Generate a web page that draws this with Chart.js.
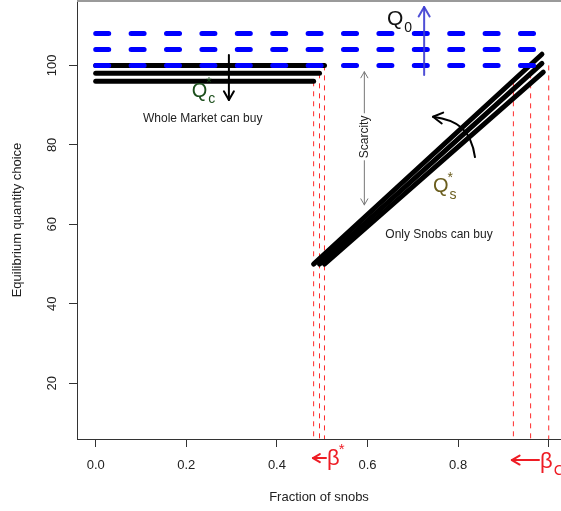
<!DOCTYPE html>
<html><head><meta charset="utf-8">
<script src="https://cdn.jsdelivr.net/npm/chart.js@4/dist/chart.umd.min.js"></script>
<style>html,body{margin:0;padding:0;background:#fff;overflow:hidden}</style>
</head><body>
<canvas id="c" width="561" height="511"></canvas>
<script>
// ---------------- data ----------------
const xTickValues = [0, 0.2, 0.4, 0.6, 0.8, 1.0];
const xTickLabels = ["0.0", "0.2", "0.4", "0.6", "0.8", ""];
const yTickValues = [20, 40, 60, 80, 100];
const yTickLabels = ["20", "40", "60", "80", "100"];
const q0Levels = [100, 104, 108];          // Q0 (blue dashed)
const q0Range = [0, 1.0];
const qcLevels = [100, 98, 96];            // Qc* (black horizontal)
const betaStar = [0.505, 0.494, 0.481];    // where Qc* ends / Qs* starts
const betaC = [1.0, 0.960, 0.922];         // right-hand thresholds
const qsStartY = [50, 50, 50];
const qsEndX = [0.988, 0.985, 0.985];
const qsEndY = [98.3, 100.5, 102.8];
const redBottom = 0;

// ---------------- datasets ----------------
const base = {pointRadius: 0, fill: false, tension: 0, borderCapStyle: 'round'};
const datasets = [];
q0Levels.forEach(L => datasets.push(Object.assign({}, base, {
  data: [{x: q0Range[0], y: L}, {x: q0Range[1], y: L}],
  borderColor: '#0000ff', borderWidth: 5, borderDash: [13, 22.4]
})));
qcLevels.forEach((L, i) => datasets.push(Object.assign({}, base, {
  data: [{x: 0, y: L}, {x: betaStar[i], y: L}],
  borderColor: '#000000', borderWidth: 5
})));
betaStar.forEach((b, i) => datasets.push(Object.assign({}, base, {
  data: [{x: b, y: qsStartY[i]}, {x: qsEndX[i], y: qsEndY[i]}],
  borderColor: '#000000', borderWidth: 5
})));
betaStar.forEach((b, i) => datasets.push(Object.assign({}, base, {
  data: [{x: b, y: qcLevels[i]}, {x: b, y: redBottom}],
  borderColor: 'rgba(255,20,20,0.9)', borderWidth: 1, borderDash: [5, 5], borderCapStyle: 'butt'
})));
betaC.forEach((b, i) => datasets.push(Object.assign({}, base, {
  data: [{x: b, y: qcLevels[i]}, {x: b, y: redBottom}],
  borderColor: 'rgba(255,20,20,0.9)', borderWidth: 1, borderDash: [5, 5], borderCapStyle: 'butt'
})));

// ---------------- annotations ----------------
const FONT = '"Liberation Sans", Arial, Helvetica, sans-serif';
const notes = {
  q0Arrow: {from: [0.725, 97.6], to: [0.725, 114.7], color: 'rgba(60,60,210,0.9)', width: 2, head: 11},
  qcArrow: {from: [0.294, 102.6], to: [0.294, 91.3], color: '#000', width: 2, head: 10},
  scarcityUp: {from: [0.593, 88.0], to: [0.593, 98.4], color: '#777', width: 1, head: 7},
  scarcityDown: {from: [0.593, 76.2], to: [0.593, 64.9], color: '#777', width: 1, head: 7},
  betaStarArrow: {from: [0.5084, 1.2], to: [0.4795, 1.2], color: '#ee1c24', width: 2, head: 8},
  betaCArrow: {from: [0.9786, 0.7], to: [0.9185, 0.7], color: '#ee1c24', width: 2, head: 9},
  curve: {pts: [[0.8372, 76.93], [0.8285, 83.72], [0.7998, 86.24], [0.7446, 87.07]], color: '#000', width: 2, head: 11}
};
const mathLabels = [
  {x: 0.643, y: 110.1, base: 'Q', sub: '0', sup: '', size: 21, color: '#111'},
  {x: 0.2119, y: 92.1, base: 'Q', sub: 'c', sup: '*', size: 20, color: '#1c4f1c'},
  {x: 0.7446, y: 68.1, base: 'Q', sub: 's', sup: '*', size: 20, color: '#6b5e1e'},
  {x: 0.5106, y: -0.6, base: '\u03B2', sub: '', sup: '*', size: 22, color: '#ee1c24'},
  {x: 0.981, y: -1.2, base: '\u03B2', sub: 'C', sup: '', size: 22, color: '#ee1c24'}
];
const plainLabels = [
  {x: 0.2362, y: 86.7, text: 'Whole Market can buy', size: 12, rot: 0},
  {x: 0.7578, y: 57.3, text: 'Only Snobs can buy', size: 12, rot: 0},
  {x: 0.593, y: 82.0, text: 'Scarcity', size: 12, rot: -Math.PI / 2}
];

function arrowHead(ctx, x0, y0, x1, y1, len) {
  const a = Math.atan2(y1 - y0, x1 - x0);
  const sp = Math.PI / 6;
  ctx.beginPath();
  ctx.moveTo(x1 - len * Math.cos(a - sp), y1 - len * Math.sin(a - sp));
  ctx.lineTo(x1, y1);
  ctx.lineTo(x1 - len * Math.cos(a + sp), y1 - len * Math.sin(a + sp));
  ctx.stroke();
}

const annotate = {
  id: 'annotate',
  afterDraw(chart) {
    const ctx = chart.ctx, sx = chart.scales.x, sy = chart.scales.y;
    const px = v => sx.getPixelForValue(v), py = v => sy.getPixelForValue(v);
    ctx.save();
    // top frame remnant
    ctx.strokeStyle = '#9a9a9a'; ctx.lineWidth = 2;
    ctx.beginPath(); ctx.moveTo(chart.chartArea.left, 1); ctx.lineTo(chart.width, 1); ctx.stroke();
    ctx.lineCap = 'round'; ctx.lineJoin = 'round';
    // straight arrows
    ['q0Arrow', 'qcArrow', 'scarcityUp', 'scarcityDown', 'betaStarArrow', 'betaCArrow'].forEach(k => {
      const a = notes[k];
      const x0 = px(a.from[0]), y0 = py(a.from[1]), x1 = px(a.to[0]), y1 = py(a.to[1]);
      ctx.strokeStyle = a.color; ctx.lineWidth = a.width;
      ctx.beginPath(); ctx.moveTo(x0, y0); ctx.lineTo(x1, y1); ctx.stroke();
      arrowHead(ctx, x0, y0, x1, y1, a.head);
    });
    // curved arrow
    const c = notes.curve, p = c.pts.map(q => [px(q[0]), py(q[1])]);
    ctx.strokeStyle = c.color; ctx.lineWidth = c.width;
    ctx.beginPath(); ctx.moveTo(p[0][0], p[0][1]);
    ctx.bezierCurveTo(p[1][0], p[1][1], p[2][0], p[2][1], p[3][0], p[3][1]); ctx.stroke();
    arrowHead(ctx, p[2][0], p[2][1], p[3][0], p[3][1], c.head);
    // plain labels
    ctx.fillStyle = '#222'; ctx.textAlign = 'center'; ctx.textBaseline = 'middle';
    plainLabels.forEach(l => {
      ctx.save(); ctx.translate(px(l.x), py(l.y)); ctx.rotate(l.rot);
      ctx.font = l.size + 'px ' + FONT;
      if (l.rot) { const w = ctx.measureText(l.text).width; ctx.fillStyle = '#fff'; ctx.fillRect(-w / 2 - 2, -6, w + 4, 12); ctx.fillStyle = '#222'; }
      ctx.fillText(l.text, 0, 0); ctx.restore();
    });
    // math labels
    ctx.textAlign = 'left'; ctx.textBaseline = 'alphabetic';
    mathLabels.forEach(m => {
      const x = px(m.x), y = py(m.y);
      ctx.fillStyle = m.color;
      ctx.font = m.size + 'px ' + FONT;
      ctx.fillText(m.base, x, y);
      const w = ctx.measureText(m.base).width;
      const s = Math.round(m.size * 0.68);
      ctx.font = s + 'px ' + FONT;
      if (m.sub) ctx.fillText(m.sub, x + w + 1, y + m.size * 0.33);
      if (m.sup) ctx.fillText(m.sup, x + w - 1, y - m.size * 0.5);
    });
    ctx.restore();
  }
};

new Chart(document.getElementById('c'), {
  type: 'line',
  data: {datasets},
  options: {
    responsive: false, animation: false, devicePixelRatio: 1,
    layout: {padding: {top: 1, right: 0, bottom: 0, left: 0}},
    plugins: {legend: {display: false}, tooltip: {enabled: false}},
    scales: {
      x: {
        type: 'linear', min: -0.0413, max: 1.0271,
        afterBuildTicks: s => { s.ticks = xTickValues.map(v => ({value: v})); },
        afterFit: s => { s.height = 72; s.paddingLeft = 0; s.paddingRight = 0; },
        ticks: {color: '#222', font: {size: 13, family: FONT}, padding: 11, maxRotation: 0,
                callback: (v, i) => xTickLabels[i]},
        grid: {drawOnChartArea: false, tickLength: 8, color: '#333', tickColor: '#333'},
        border: {display: true, color: '#333', width: 1},
        title: {display: true, text: 'Fraction of snobs', color: '#222', font: {size: 13, family: FONT}, padding: {top: 0, bottom: 6}}
      },
      y: {
        type: 'linear', min: 6, max: 116.2,
        afterBuildTicks: s => { s.ticks = yTickValues.map(v => ({value: v})); },
        afterFit: s => { s.width = 77; s.paddingTop = 0; s.paddingBottom = 0; },
        ticks: {color: '#222', font: {size: 13, family: FONT}, padding: 6, minRotation: 90, maxRotation: 90, crossAlign: 'center',
                callback: (v, i) => yTickLabels[i]},
        grid: {drawOnChartArea: false, tickLength: 8, color: '#333', tickColor: '#333'},
        border: {display: true, color: '#333', width: 1},
        title: {display: true, text: 'Equilibrium quantity choice', color: '#222', font: {size: 13, family: FONT}, padding: {top: 10, bottom: 0}}
      }
    }
  },
  plugins: [annotate]
});
</script>
</body></html>
